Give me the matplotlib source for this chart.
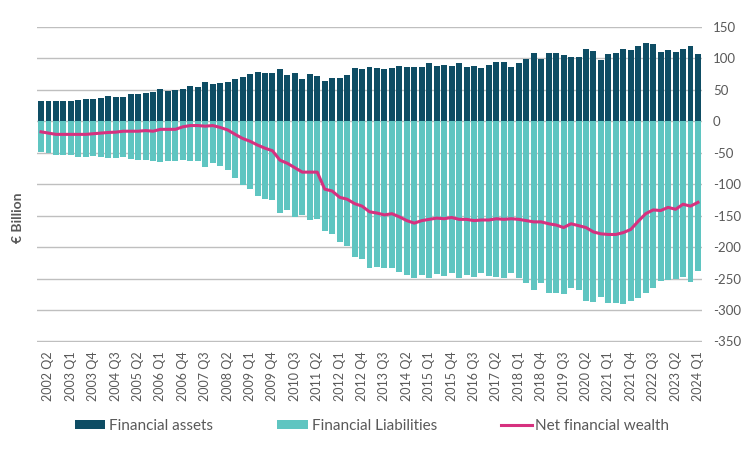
import matplotlib
matplotlib.use("Agg")
import matplotlib.pyplot as plt
from matplotlib.patches import Patch
from matplotlib.lines import Line2D

# Quarters 2002 Q1 .. 2024 Q1
quarters = [f"{y} Q{q}" for y in range(2002, 2025) for q in range(1, 5)][:89]

financial_assets = [
    32, 32, 32, 32, 32, 33, 35, 35, 36, 40,
    38, 38, 43, 43, 44, 46, 51, 48, 49, 51,
    56, 54, 62, 59, 60, 62, 67, 70, 75, 78,
    76, 76, 83, 73, 76, 67, 75, 71, 63.5, 68,
    68, 73, 84, 82.5, 86, 84, 82.5, 84, 87, 86,
    86, 86, 92, 87, 89, 87, 92, 86, 87, 84,
    89, 94, 94, 86, 92, 98, 108, 98, 108, 108,
    105, 102, 102, 114, 111, 97, 106, 108, 114, 113,
    119, 124, 122, 110, 113, 110, 114, 119, 106,
]

financial_liabilities = [
    -49, -51, -53, -53, -53, -57, -57, -55, -57, -59,
    -59, -57, -60, -62, -62, -63.5, -65, -63.5, -63.5, -62,
    -63.5, -63.5, -73, -67, -71, -78, -90, -102, -108, -119,
    -124, -125, -146, -141, -152, -149, -157, -155, -175, -179,
    -192, -198, -216, -219, -233, -232, -233, -233, -240, -244,
    -249, -244, -249, -243, -246, -241, -249, -244, -248, -241,
    -246, -248, -249, -241, -249, -257, -268, -257, -273, -273,
    -275, -265, -268, -286, -287, -279, -289, -289, -290, -286,
    -281, -273, -265, -254, -252, -251, -248, -256, -238,
]

net_financial_wealth = [
    -17, -19, -21, -21, -21, -21, -21, -20, -19, -18,
    -17.5, -16, -16, -16, -15, -16, -13, -13, -13, -9,
    -7, -7, -8, -7, -10, -14, -21, -27.5, -32, -38,
    -43, -47, -62, -67, -74, -81, -81, -81, -108, -111,
    -121, -124, -131, -135, -144, -146, -149, -147, -152, -158,
    -162, -158, -156, -154, -155, -153, -156, -156, -158, -157,
    -157, -155, -156, -155, -156, -158, -160, -160, -163, -165,
    -169, -163, -166, -169, -176, -179, -180, -180, -177, -172,
    -159, -147, -141, -142, -137, -140, -132, -135, -129,
]

yticks = [150, 100, 50, 0, -50, -100, -150, -200, -250, -300, -350]

C_ASSETS = "#0E4D64"
C_LIAB = "#5FC5C1"
C_NET = "#D6317F"
C_TEXT = "#595959"
C_GRID = "#BFBFBF"

plt.rcParams["font.family"] = ["Lato", "DejaVu Sans"]

fig = plt.figure(figsize=(7.56, 4.5), dpi=100)
ax = fig.add_axes([37.3 / 756, 1 - 341.5 / 450, (701.7 - 37.3) / 756, (341.5 - 26.7) / 450])

x = list(range(len(quarters)))
ax.bar(x, financial_assets, width=0.8, color=C_ASSETS, zorder=2)
ax.bar(x, financial_liabilities, width=0.8, color=C_LIAB, zorder=2)
ax.plot(x, net_financial_wealth, color=C_NET, lw=2.2, zorder=3, solid_joinstyle="round")

ax.set_xlim(-0.5, len(quarters) - 0.5)
ax.set_ylim(-350, 150)
ax.set_yticks(yticks)
ax.set_yticklabels([str(v) for v in yticks])
ax.yaxis.tick_right()
ax.grid(axis="y", color=C_GRID, lw=1.0, zorder=0)
ax.set_axisbelow(True)
for s in ax.spines.values():
    s.set_visible(False)

tick_idx = list(range(1, len(quarters), 3))
ax.set_xticks(tick_idx)
ax.set_xticklabels([quarters[i] for i in tick_idx], rotation=90, fontsize=9, color=C_TEXT)
ax.tick_params(axis="x", length=0, pad=7)
ax.tick_params(axis="y", length=0, pad=8, labelsize=9.5, labelcolor=C_TEXT)

fig.text(18 / 756, 1 - 218 / 450, "€ Billion", rotation=90, ha="center", va="center",
         fontsize=10, fontweight="bold", color=C_TEXT)

handles = [
    Patch(facecolor=C_ASSETS, edgecolor="none"),
    Patch(facecolor=C_LIAB, edgecolor="none"),
    Line2D([0], [0], color=C_NET, lw=2.2),
]
labels = ["Financial assets", "Financial Liabilities", "Net financial wealth"]
leg = fig.legend(handles, labels, loc="center", bbox_to_anchor=(372 / 756, 1 - 426 / 450),
                 ncol=3, frameon=False, fontsize=11, handlelength=2.0, handleheight=0.5,
                 handletextpad=0.25, columnspacing=4.2, labelcolor=C_TEXT)

fig.savefig("out.png", dpi=100)
